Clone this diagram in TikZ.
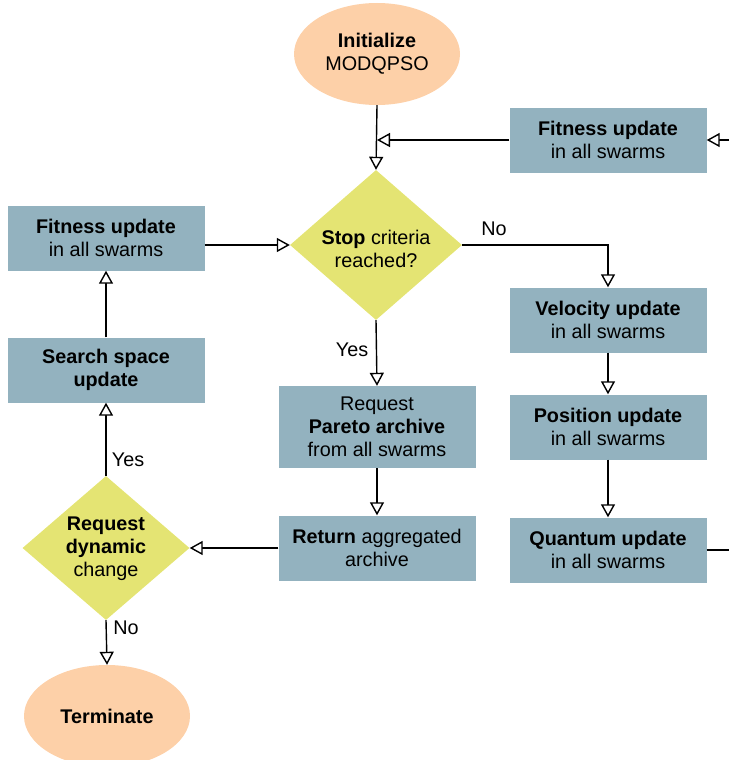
\documentclass[tikz,border=0pt]{standalone}
\usepackage{fontspec}
\setmainfont{Liberation Sans}
\usetikzlibrary{shapes.geometric,arrows.meta}
\definecolor{boxc}{HTML}{93B2BF}
\definecolor{diac}{HTML}{E4E473}
\definecolor{ellc}{HTML}{FDD0A8}
\begin{document}
\begin{tikzpicture}[x=1pt,y=-1pt,
  font=\fontsize{19.8}{23}\selectfont,
  box/.style={rectangle,fill=boxc,minimum width=197pt,minimum height=65pt,inner sep=0pt,align=center},
  dia/.style={diamond,fill=diac,inner sep=0pt},
  txt/.style={align=center,inner sep=0pt},
  term/.style={ellipse,fill=ellc,minimum width=166pt,minimum height=102pt,inner sep=0pt,align=center},
  conn/.style={line width=1.4pt,-{Triangle[open,length=13pt,width=14pt,fill=white]}},
  plain/.style={line width=1.4pt},
  lab/.style={inner sep=0pt}
]
\useasboundingbox (0,0) rectangle (729,760);
% nodes
\node[term] (init) at (377,54) {\textbf{Initialize}\\MODQPSO};
\node[box] (fitR) at (608,140) {\textbf{Fitness update}\\in all swarms};
\node[dia,minimum width=172pt,minimum height=150pt] (stop) at (376,245) {};
\node[txt] (stoptxt) at (376,249) {\textbf{Stop} criteria\\reached?};
\node[box] (fitL) at (106,238) {\textbf{Fitness update}\\in all swarms};
\node[box] (vel) at (608,320) {\textbf{Velocity update}\\in all swarms};
\node[box] (pos) at (608,427) {\textbf{Position update}\\in all swarms};
\node[box] (quant) at (608,550) {\textbf{Quantum update}\\in all swarms};
\node[box,minimum height=82pt] (pareto) at (377,427) {Request\\\textbf{Pareto archive}\\from all swarms};
\node[box] (ret) at (377,548) {\textbf{Return} aggregated\\archive};
\node[box] (search) at (106,370) {\textbf{Search space}\\\textbf{update}};
\node[dia,minimum width=167pt,minimum height=144pt] (req) at (106,548) {};
\node[txt] (reqtxt) at (106,549) {\textbf{Request}\\\textbf{dynamic}\\change};
\node[term] (termn) at (107,716) {\textbf{Terminate}};
\coordinate (inR) at (729,140);
\coordinate (outR) at (729,550);
% connectors
\draw[conn] (init.south) -- (stop.north);
\draw[conn] (fitR.west) -- (fitR.west -| init.south);
\draw[conn] (inR) -- (fitR.east);
\draw[plain] (quant.east) -- (outR);
\draw[conn] (fitL.east |- stop.west) -- (stop.west);
\draw[conn] (stop.east) -| (vel.north);
\draw[conn] (vel.south) -- (pos.north);
\draw[conn] (pos.south) -- (quant.north);
\draw[conn] (stop.south) -- (pareto.north);
\draw[conn] (pareto.south) -- (ret.north);
\draw[conn] (ret.west) -- (req.east);
\draw[conn] (req.north) -- (search.south);
\draw[conn] (search.north) -- (fitL.south);
\draw[conn] (req.south) -- (termn.north);
% labels
\node[lab] (lno1) at (494,229) {No};
\node[lab] (lyes1) at (352,350) {Yes};
\node[lab] (lyes2) at (128,460) {Yes};
\node[lab] (lno2) at (126,628) {No};
\end{tikzpicture}
\end{document}
